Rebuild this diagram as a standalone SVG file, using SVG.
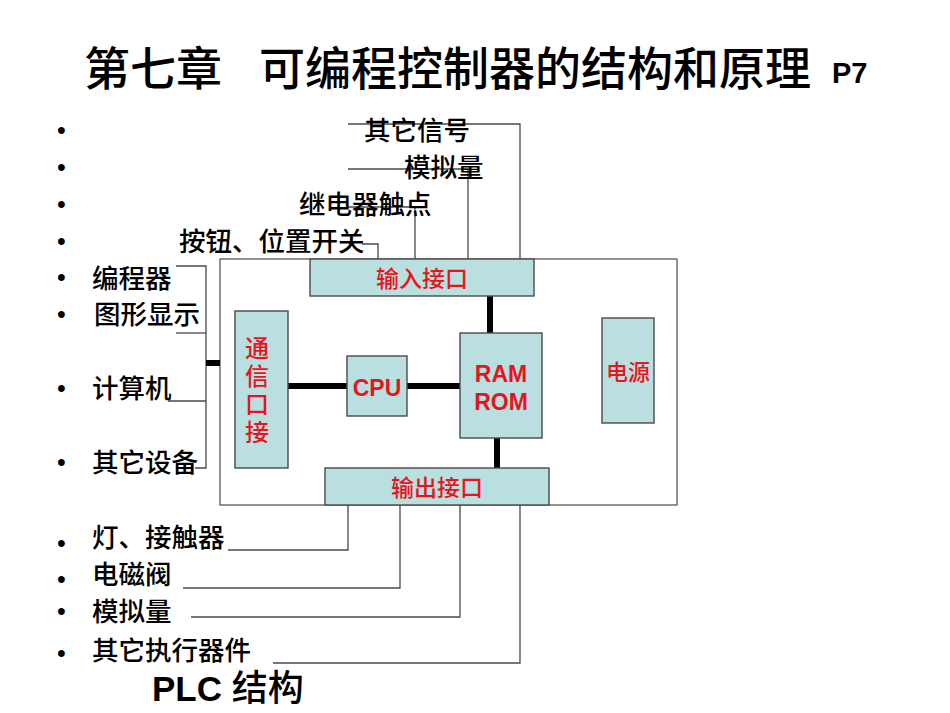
<svg xmlns="http://www.w3.org/2000/svg" width="950" height="713" viewBox="0 0 950 713">
<style>
.cjk{font-family:"Noto Sans CJK SC","Liberation Sans",sans-serif;fill:#000;font-weight:500}
.lat{font-family:"Liberation Sans","Noto Sans CJK SC",sans-serif}
.lbl{font-size:26.5px}
.rc{font-family:"Noto Sans CJK SC","Liberation Sans",sans-serif;fill:#e8141c;font-weight:500}
.box{fill:#b9dfe1;stroke:#4a4a4a;stroke-width:1.4}
.thin{fill:none;stroke:#4a4a4a;stroke-width:1.3}
.bus{fill:none;stroke:#000;stroke-width:6}
.bul{font-family:"Liberation Sans",sans-serif;font-size:25px;fill:#000}
</style>
<rect width="950" height="713" fill="#fff"/>
<g id="title">
<text class="cjk" x="84" y="85" font-size="46">第七章</text>
<text class="cjk" x="259" y="85" font-size="46">可编程控制器的结构和原理</text>
<text class="lat" x="832" y="83" font-size="29" font-weight="bold">P7</text>
</g>
<g id="bullets">
<text class="bul" x="57" y="139">•</text>
<text class="bul" x="57" y="176">•</text>
<text class="bul" x="57" y="213">•</text>
<text class="bul" x="57" y="250">•</text>
<text class="bul" x="57" y="286">•</text>
<text class="bul" x="57" y="323">•</text>
<text class="bul" x="57" y="397">•</text>
<text class="bul" x="57" y="471">•</text>
<text class="bul" x="57" y="552">•</text>
<text class="bul" x="57" y="588">•</text>
<text class="bul" x="57" y="620">•</text>
<text class="bul" x="57" y="662">•</text>
</g>
<g id="plc-box">
<rect x="220" y="259" width="457" height="246" fill="#fff" stroke="#4a4a4a" stroke-width="1.2"/>
</g>
<g id="connectors">
<path class="thin" d="M348 124H520V259"/>
<path class="thin" d="M348 169H468V259"/>
<path class="thin" d="M348 207H415V259"/>
<path class="thin" d="M362 244H378V259"/>
<path class="thin" d="M176 266H206V468H195"/>
<path class="thin" d="M176 333H206"/>
<path class="thin" d="M168 401H206"/>
<path class="thin" d="M348 505V550H228"/>
<path class="thin" d="M400 505V588H183"/>
<path class="thin" d="M460 505V617H191"/>
<path class="thin" d="M520 505V663H273"/>
<path class="bus" d="M206 363H220"/>
<path class="bus" d="M288 386H347"/>
<path class="bus" d="M407 386H460"/>
<path class="bus" d="M490 289V333"/>
<path class="bus" d="M497 438V468"/>
</g>
<g id="input-interface">
<rect class="box" x="310" y="259" width="224" height="37"/>
<text class="rc" x="422" y="287" font-size="23" text-anchor="middle">输入接口</text>
</g>
<g id="output-interface">
<rect class="box" x="325" y="468" width="224" height="37"/>
<text class="rc" x="437" y="496" font-size="23" text-anchor="middle">输出接口</text>
</g>
<g id="comm-interface">
<rect class="box" x="235" y="311" width="53" height="157"/>
<text class="rc" x="257" y="336" font-size="24" writing-mode="vertical-rl" letter-spacing="4">通信口接</text>
</g>
<g id="cpu">
<rect class="box" x="347" y="356" width="60" height="60"/>
<text class="lat" x="377" y="396" font-size="23" font-weight="bold" text-anchor="middle" fill="#e8141c">CPU</text>
</g>
<g id="memory">
<rect class="box" x="460" y="333" width="82" height="105"/>
<text class="lat" x="501" y="382" font-size="23" font-weight="bold" text-anchor="middle" fill="#e8141c">RAM</text>
<text class="lat" x="501" y="410" font-size="23" font-weight="bold" text-anchor="middle" fill="#e8141c">ROM</text>
</g>
<g id="power">
<rect class="box" x="602" y="318" width="52" height="105"/>
<text class="rc" x="628" y="380" font-size="22" text-anchor="middle">电源</text>
</g>
<g id="input-labels">
<text class="cjk lbl" x="364" y="140">其它信号</text>
<text class="cjk lbl" x="404" y="177">模拟量</text>
<text class="cjk lbl" x="299" y="214">继电器触点</text>
<text class="cjk lbl" x="179" y="251">按钮、位置开关</text>
</g>
<g id="comm-labels">
<text class="cjk lbl" x="92" y="288">编程器</text>
<text class="cjk lbl" x="94" y="324">图形显示</text>
<text class="cjk lbl" x="92" y="398">计算机</text>
<text class="cjk lbl" x="92" y="472">其它设备</text>
</g>
<g id="output-labels">
<text class="cjk lbl" x="92" y="547">灯、接触器</text>
<text class="cjk lbl" x="92" y="584">电磁阀</text>
<text class="cjk lbl" x="92" y="621">模拟量</text>
<text class="cjk lbl" x="92" y="660">其它执行器件</text>
</g>
<g id="caption">
<text class="lat" x="152" y="701" font-size="35" font-weight="bold">PLC <tspan font-size="36" font-weight="500" style="font-family:'Noto Sans CJK SC',sans-serif">结构</tspan></text>
</g>
</svg>
